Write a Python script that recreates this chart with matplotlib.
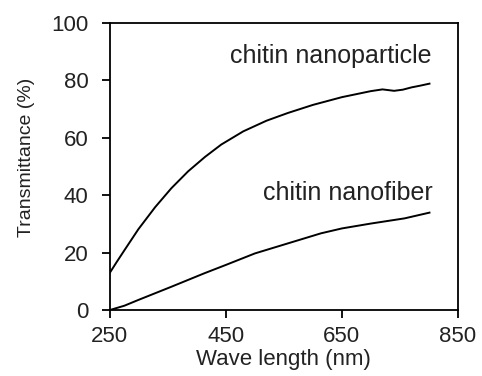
import numpy as np
import matplotlib.pyplot as plt

plt.rcParams['font.family'] = ['Liberation Sans', 'DejaVu Sans']

# wavelength (nm) and transmittance (%)
wl_particle = [250, 262, 276, 299, 328, 356, 385, 414, 442, 480, 520, 557, 600, 650,
               700, 720, 740, 755, 770, 785, 801]
tr_particle = [13.0, 16.8, 21.1, 28.1, 35.8, 42.4, 48.3, 53.3, 57.6, 62.2, 65.9, 68.6, 71.4, 74.1,
               76.2, 76.8, 76.3, 76.7, 77.5, 78.1, 78.8]

wl_fiber = [250, 275, 299, 356, 413, 450, 500, 557, 614, 650, 700, 758, 801]
tr_fiber = [0.0, 1.5, 3.5, 8.1, 12.8, 15.7, 19.7, 23.2, 26.7, 28.4, 30.1, 31.9, 33.9]

xticks = [250, 450, 650, 850]
yticks = [0, 20, 40, 60, 80, 100]

fig = plt.figure(figsize=(4.82, 3.76), dpi=100)
ax = fig.add_axes([0.228, 0.1755, 0.722, 0.764])

ax.plot(wl_particle, tr_particle, color='black', lw=1.4)
ax.plot(wl_fiber, tr_fiber, color='black', lw=1.4)

ax.text(804, 88.5, 'chitin nanoparticle', ha='right', va='center', fontsize=18, color='#222222')
ax.text(807, 40.6, 'chitin nanofiber', ha='right', va='center', fontsize=18, color='#222222')

ax.set_xlim(250, 850)
ax.set_ylim(0, 100)
ax.set_xticks(xticks)
ax.set_yticks(yticks)
ax.tick_params(direction='out', length=5.5, width=1.3, labelsize=16, colors='black',
               labelcolor='#222222', top=False, right=False)
ax.tick_params(axis='y', pad=10)
ax.tick_params(axis='x', pad=6)
for s in ax.spines.values():
    s.set_linewidth(1.3)

ax.set_xlabel('Wave length (nm)', fontsize=16, color='#222222')
ax.set_ylabel('Transmittance (%)', fontsize=14, color='#222222')
ax.xaxis.set_label_coords(0.5, -0.135)
ax.yaxis.set_label_coords(-0.215, 0.53)

fig.savefig('out.png', dpi=100)
